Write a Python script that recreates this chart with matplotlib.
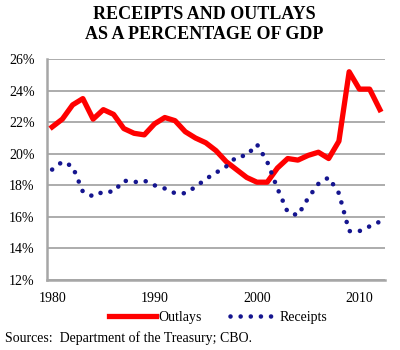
import matplotlib.pyplot as plt
from matplotlib.ticker import FuncFormatter

plt.rcParams["font.family"] = ["Liberation Serif", "DejaVu Serif"]

years = list(range(1980, 2013))
outlays = [21.7, 22.2, 23.1, 23.5, 22.2, 22.8, 22.5, 21.6, 21.3, 21.2,
           21.9, 22.3, 22.1, 21.4, 21.0, 20.7, 20.2, 19.5, 19.0, 18.5,
           18.2, 18.2, 19.1, 19.7, 19.6, 19.9, 20.1, 19.7, 20.8, 25.2,
           24.1, 24.1, 22.8]
receipts = [19.0, 19.5, 19.2, 17.6, 17.3, 17.6, 17.6, 18.3, 18.2, 18.3,
            18.0, 17.8, 17.5, 17.5, 17.9, 18.4, 18.8, 19.2, 19.8, 19.9,
            20.6, 19.5, 17.8, 16.3, 16.1, 17.2, 18.1, 18.5, 17.5, 15.1,
            15.1, 15.4, 15.7]
y_ticks = [12, 14, 16, 18, 20, 22, 24, 26]
x_ticks = [1980, 1990, 2000, 2010]

RED = "#ff0000"
NAVY = "#15158f"
GRID = "#a6a6a6"

fig = plt.figure(figsize=(4, 3.5), dpi=100)
ax = fig.add_axes([0.1175, 0.2, 0.845, 0.631])

ax.plot(years, outlays, color=RED, lw=3.8, solid_joinstyle="round",
        label="Outlays", zorder=3)
ax.plot(years, receipts, color=NAVY, lw=3.3, linestyle=(0, (0.01, 2.2)),
        dash_capstyle="round", label="Receipts", zorder=3)

ax.set_xlim(1979.5, 2012.5)
ax.set_ylim(12, 26)
ax.set_yticks(y_ticks)
ax.set_xticks(x_ticks)
ax.yaxis.set_major_formatter(FuncFormatter(lambda v, _: f"{v:.0f}%"))
ax.tick_params(axis="both", length=0, labelsize=10, pad=9)
ax.grid(axis="y", color=GRID, lw=1.3)
ax.set_axisbelow(True)
for side in ["top", "right"]:
    ax.spines[side].set_visible(False)
for side in ["left", "bottom"]:
    ax.spines[side].set_color(GRID)
    ax.spines[side].set_linewidth(1.8)

fig.text(0.51, 0.982, "RECEIPTS AND OUTLAYS\nAS A PERCENTAGE OF GDP",
         ha="center", va="top", fontsize=13, fontweight="bold",
         linespacing=1.2)

fig.legend(loc="center", bbox_to_anchor=(0.545, 0.093), ncol=2,
           frameon=False, fontsize=10, handlelength=3.4, columnspacing=2.0,
           handletextpad=0.2)

fig.text(0.012, 0.035, "Sources:  Department of the Treasury; CBO.",
         ha="left", va="center", fontsize=10)

fig.savefig("out.png", dpi=100)
